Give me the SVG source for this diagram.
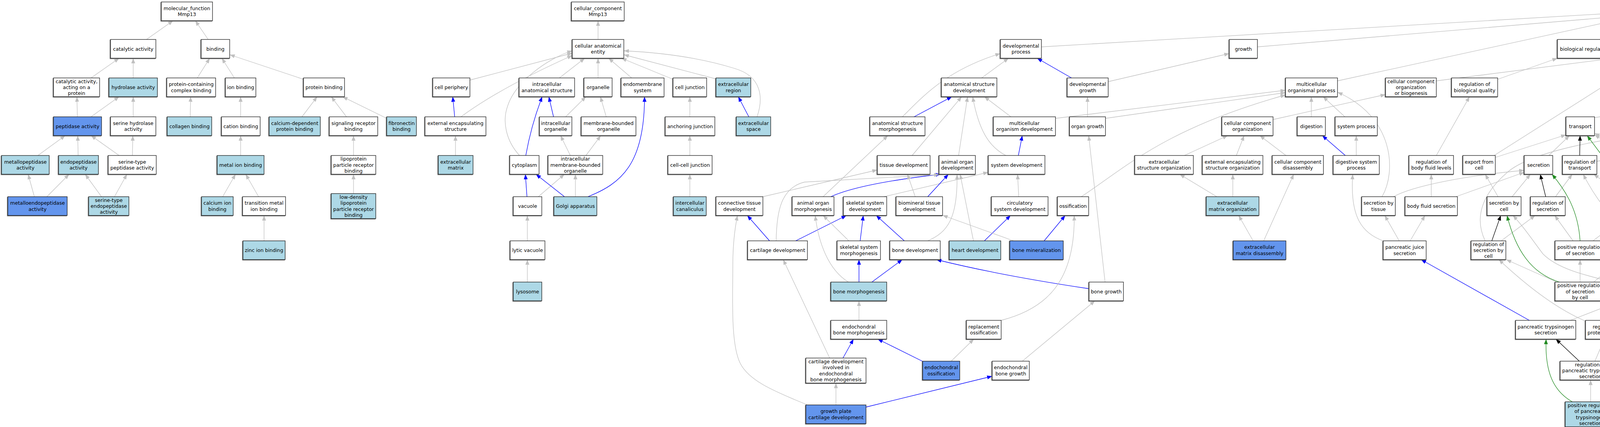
<svg xmlns="http://www.w3.org/2000/svg" width="5927" height="1093" viewBox="0 0 5927 1093">
<style>
.w{fill:#fff}.lb{fill:#add8e6}.cb{fill:#6495ed}
.nd rect{stroke:#1a1a1a;stroke-width:1.3;filter:url(#sh)}
.nd text{font-family:"DejaVu Sans",Verdana,sans-serif;font-size:12.5px;text-anchor:middle;fill:#000}
#connectors path{fill:none;stroke-width:1.3}
#connectors .g{stroke:#c0c0c0;marker-end:url(#ag)}
#connectors .b{stroke:#0000ff;marker-end:url(#ab)}
#connectors .k{stroke:#000000;marker-end:url(#ak)}
#connectors .f{stroke:#228b22;marker-end:url(#af)}
</style>
<defs>
<filter id="sh" x="-5%" y="-10%" width="110%" height="125%"><feDropShadow dx="-1.3" dy="1.3" stdDeviation="0" flood-color="#555555" flood-opacity="1"/></filter>
<marker id="ag" viewBox="0 0 13 10" refX="13" refY="5" markerWidth="13" markerHeight="10" markerUnits="userSpaceOnUse" orient="auto"><path d="M0,0L13,5L0,10z" fill="#c0c0c0"/></marker>
<marker id="ab" viewBox="0 0 13 10" refX="13" refY="5" markerWidth="13" markerHeight="10" markerUnits="userSpaceOnUse" orient="auto"><path d="M0,0L13,5L0,10z" fill="#0000ff"/></marker>
<marker id="ak" viewBox="0 0 13 10" refX="13" refY="5" markerWidth="13" markerHeight="10" markerUnits="userSpaceOnUse" orient="auto"><path d="M0,0L13,5L0,10z" fill="#000000"/></marker>
<marker id="af" viewBox="0 0 13 10" refX="13" refY="5" markerWidth="13" markerHeight="10" markerUnits="userSpaceOnUse" orient="auto"><path d="M0,0L13,5L0,10z" fill="#228b22"/></marker>
</defs>
<rect x="0" y="0" width="5927" height="1093" fill="#fff"/>
<g id="connectors">
<path class="g" d="M375,101L443,53"/>
<path class="g" d="M533,101L500,53"/>
<path class="g" d="M233,199.5L305,149"/>
<path class="g" d="M341,199.5L341,149"/>
<path class="g" d="M505,199.5L537,149"/>
<path class="g" d="M600,199.5L568,149"/>
<path class="g" d="M777,203L588,140"/>
<path class="g" d="M198,299L197,247.5"/>
<path class="g" d="M233,299L305,247.5"/>
<path class="g" d="M341,299L341,247.5"/>
<path class="g" d="M487,299L488,247.5"/>
<path class="g" d="M616,299L616,247.5"/>
<path class="g" d="M773,299L812,247.5"/>
<path class="g" d="M887,299L848,247.5"/>
<path class="g" d="M990,303L877,247.5"/>
<path class="g" d="M97,398L167,347"/>
<path class="g" d="M200,398L199,347"/>
<path class="g" d="M305,398L233,347"/>
<path class="g" d="M339,398L340,347"/>
<path class="g" d="M616,398L616,347"/>
<path class="g" d="M905,398L905,347"/>
<path class="g" d="M88,503.5L72,446"/>
<path class="g" d="M120,503.5L177,446"/>
<path class="g" d="M260,503.5L218,446"/>
<path class="g" d="M293,503.5L325,446"/>
<path class="g" d="M570,503.5L603,446"/>
<path class="g" d="M662,503.5L629,446"/>
<path class="g" d="M905,495.5L905,446"/>
<path class="g" d="M676,616.5L676,551.5"/>
<path class="g" d="M1531,101L1531,53"/>
<path class="g" d="M1203,205L1465,136"/>
<path class="g" d="M1180,299Q1280,225 1465,142"/>
<path class="g" d="M1330,398C1295,360 1285,310 1300,270C1320,210 1400,150 1465,130"/>
<path class="g" d="M1432,199.5L1497,149"/>
<path class="g" d="M1531,199.5L1531,149"/>
<path class="g" d="M1617,199.5L1558,149"/>
<path class="g" d="M1723,203L1591,149"/>
<path class="g" d="M1833,202L1597,140"/>
<path class="g" d="M1938,299C1955,250 1950,195 1880,175C1800,150 1700,135 1597,130"/>
<path class="b" d="M1164,299L1159,247.5"/>
<path class="b" d="M1417,299L1405,247.5"/>
<path class="g" d="M1448,299L1500,247.5"/>
<path class="g" d="M1552,299L1537,247.5"/>
<path class="g" d="M1766,299L1766,247.5"/>
<path class="b" d="M1917,299L1890,247.5"/>
<path class="g" d="M1166,398L1166,347"/>
<path class="b" d="M1346,398Q1360,320 1388,247.5"/>
<path class="g" d="M1460,398L1435,347"/>
<path class="g" d="M1500,398L1538,347"/>
<path class="g" d="M1766,398L1766,347"/>
<path class="b" d="M1349,503.5L1345,446"/>
<path class="g" d="M1378,503.5L1445,446"/>
<path class="b" d="M1445,503.5L1372,446"/>
<path class="g" d="M1473,503.5L1473,446"/>
<path class="b" d="M1505,503.5C1590,470 1650,420 1650,247.5"/>
<path class="g" d="M1766,503.5L1766,446"/>
<path class="g" d="M1350,616.5L1350,551.5"/>
<path class="g" d="M1350,722L1350,664.5"/>
<path class="g" d="M2666,120L4146,33"/>
<path class="g" d="M3219,120L4146,42"/>
<path class="g" d="M3424,207L4146,50"/>
<path class="g" d="M4095,101L4170,53"/>
<path class="g" d="M4243,101L4222,53"/>
<path class="k" d="M4360,199.5C4345,140 4320,85 4263,53"/>
<path class="f" d="M4170,299C4172,210 4182,110 4200,53"/>
<path class="g" d="M4544,112L4273,48"/>
<path class="g" d="M5136,119L4273,40"/>
<path class="g" d="M5697,121L4273,34"/>
<path class="g" d="M2513,199.5L2582,149"/>
<path class="g" d="M2310,299C2360,250 2420,180 2561,137"/>
<path class="b" d="M2743,199.5L2655,149"/>
<path class="g" d="M2837,209L3147,137"/>
<path class="b" d="M2340,299L2437,247.5"/>
<path class="g" d="M2335,398L2462,247.5"/>
<path class="g" d="M2454,398L2477,247.5"/>
<path class="g" d="M2575,398C2530,375 2505,330 2490,247.5"/>
<path class="g" d="M2588,299L2520,247.5"/>
<path class="g" d="M2702,303L3291,231"/>
<path class="g" d="M2784,299L2784,247.5"/>
<path class="g" d="M2830,303L3291,237"/>
<path class="b" d="M2607,398L2617,347"/>
<path class="g" d="M2263,503.5L2530,441"/>
<path class="g" d="M2608,503.5L2605,446"/>
<path class="b" d="M2520,616.5L2587,551.5"/>
<path class="g" d="M2107,503.5L2273,347"/>
<path class="b" d="M2127,503.5Q2200,470 2408,446"/>
<path class="g" d="M2343,503.5L2323,446"/>
<path class="b" d="M2375,503.5L2428,446"/>
<path class="g" d="M1953,503.5L2246,435"/>
<path class="g" d="M1987,616.5C1988,540 2000,480 2060,466L2404,447"/>
<path class="b" d="M2037,616.5L2167,551.5"/>
<path class="b" d="M1970,616.5L1913,551.5"/>
<path class="g" d="M2173,616.5L2107,551.5"/>
<path class="b" d="M2202,616.5L2210,551.5"/>
<path class="b" d="M2315,616.5L2243,551.5"/>
<path class="g" d="M2375,616.5C2425,595 2452,560 2450,446"/>
<path class="g" d="M2492,616.5L2458,446"/>
<path class="g" d="M2595,616.5L2413,551"/>
<path class="b" d="M2673,616.5L2727,551.5"/>
<path class="b" d="M2199,722L2199,664.5"/>
<path class="b" d="M2232,722L2310,664.5"/>
<path class="g" d="M2172,722C2120,690 2095,620 2087,551.5"/>
<path class="b" d="M2788,739Q2560,705 2397,664.5"/>
<path class="g" d="M2199,820L2199,770"/>
<path class="g" d="M2563,820C2680,790 2752,720 2750,551.5"/>
<path class="g" d="M2829,722L2787,347"/>
<path class="b" d="M2158,916.5L2185,868"/>
<path class="g" d="M2124,916.5L2005,664.5"/>
<path class="b" d="M2362,925L2247,868"/>
<path class="g" d="M2435,924.5L2493,868"/>
<path class="g" d="M2617,924.5L2803,770"/>
<path class="g" d="M2140,1036.5L2140,980.5"/>
<path class="b" d="M2217,1042L2540,963"/>
<path class="g" d="M2068,1037C2000,1008 1920,980 1895,930C1870,880 1876,760 1876,680C1876,620 1882,580 1888,551.5"/>
<path class="g" d="M2768,503.5C2880,430 2980,330 3291,243"/>
<path class="g" d="M3032,398L3143,347"/>
<path class="g" d="M3165,398L3185,347"/>
<path class="g" d="M3292,398L3225,347"/>
<path class="g" d="M3259,306L3547,242"/>
<path class="g" d="M3357,299L3357,247.5"/>
<path class="g" d="M3443,299L3387,247.5"/>
<path class="b" d="M3444,398L3385,347"/>
<path class="g" d="M3472,398L3472,347"/>
<path class="g" d="M3115,503.5L3020,446"/>
<path class="g" d="M3156,503.5L3156,446"/>
<path class="g" d="M3208,616.5L3171,551.5"/>
<path class="g" d="M3235,616.5L3312,446"/>
<path class="g" d="M3541,616.5C3490,598 3455,560 3463,446"/>
<path class="g" d="M3538,503.5C3575,440 3570,300 3424,236"/>
<path class="g" d="M3677,207L4202,140"/>
<path class="g" d="M3834,203L3987,149"/>
<path class="g" d="M3677,398L3762,247.5"/>
<path class="g" d="M3825,398L4218,149"/>
<path class="g" d="M3828,403L4009,345"/>
<path class="g" d="M3965,398L4018,347"/>
<path class="g" d="M3664,503.5L3664,446"/>
<path class="g" d="M3727,503.5L3902,441"/>
<path class="g" d="M3567,503.5C3620,475 3750,450 3902,436"/>
<path class="g" d="M3582,616.5L3545,551.5"/>
<path class="g" d="M3610,616.5L3648,551.5"/>
<path class="g" d="M3871,503.5L3918,446"/>
<path class="g" d="M3835,503.5L3802,446"/>
<path class="k" d="M3957,503.5L3943,446"/>
<path class="g" d="M3982,503.5L4025,446"/>
<path class="k" d="M3819,616.5L3842,551.5"/>
<path class="g" d="M3843,616.5L3930,551.5"/>
<path class="g" d="M3802,616.5C3775,560 3790,500 3860,440C3920,390 4100,350 4310,336"/>
<path class="g" d="M4027,616.5L3980,551.5"/>
<path class="g" d="M4078,616.5L4163,551.5"/>
<path class="f" d="M4045,616.5C4040,540 4010,490 3973,446"/>
<path class="f" d="M3992,722C3920,700 3880,640 3858,551.5"/>
<path class="g" d="M3985,722L3856,664.5"/>
<path class="g" d="M4045,722L4045,664.5"/>
<path class="g" d="M4080,722Q4300,540 4362,446"/>
<path class="g" d="M4152,728C4060,705 3990,690 3950,650C3920,610 3900,580 3873,551.5"/>
<path class="g" d="M4059,822Q3960,780 3837,664.5"/>
<path class="b" d="M3915,820L3638,664.5"/>
<path class="g" d="M4020,820L4152,769"/>
<path class="k" d="M4043,924.5L3983,868"/>
<path class="g" d="M4083,924.5L4107,868"/>
<path class="g" d="M4072,1028.5L4072,972.5"/>
<path class="f" d="M4025,1028.5C3975,1000 3955,950 3958,868"/>
<path class="g" d="M4120,1028.5L4203,972.5"/>
<path class="g" d="M4212,924.5L4147,868"/>
<path class="f" d="M4239,924.5C4240,870 4232,810 4220,770"/>
<path class="g" d="M4235,924.5C4215,850 4170,790 4110,770"/>
<path class="g" d="M4282,924.5L4378,868"/>
<path class="k" d="M4140,820L4187,770"/>
<path class="g" d="M4175,823L4363,767"/>
<path class="g" d="M4416,616.5L4405,551.5"/>
<path class="g" d="M4448,616.5L4523,551.5"/>
<path class="g" d="M4479,617L4647,551.5"/>
<path class="g" d="M4258,722L4373,664.5"/>
<path class="g" d="M4268,730L4503,668"/>
<path class="k" d="M4422,722L4422,664.5"/>
<path class="g" d="M4363,722C4250,680 4120,580 4053,446"/>
<path class="g" d="M4479,729L4683,664.5"/>
<path class="g" d="M4422,820L4422,770"/>
<path class="f" d="M4453,820C4510,790 4505,700 4450,664.5"/>
<path class="g" d="M4395,820L4210,551.5"/>
<path class="g" d="M4487,823L4732,767"/>
<path class="g" d="M4160,503.5L4080,446"/>
<path class="g" d="M4193,503.5L4172,347"/>
<path class="f" d="M4180,503.5L4063,347"/>
<path class="g" d="M4347,503.5L4082,345"/>
<path class="g" d="M4484,503.5C4330,480 4200,400 4082,341"/>
<path class="k" d="M4044,398L4045,347"/>
<path class="g" d="M4088,413L4466,341"/>
<path class="g" d="M4082,301L4449,248"/>
<path class="g" d="M4217,299L4317,247.5"/>
<path class="g" d="M4364,299L4364,247.5"/>
<path class="k" d="M4333,299C4290,260 4262,220 4262,149"/>
<path class="f" d="M4345,398C4280,370 4255,300 4255,149"/>
<path class="g" d="M4375,398L4368,347"/>
<path class="g" d="M4328,398L4227,347"/>
<path class="g" d="M4473,299L4403,247.5"/>
<path class="g" d="M4493,398L4413,347"/>
<path class="g" d="M4528,398L4517,347"/>
<path class="k" d="M4553,398L4672,247.5"/>
<path class="g" d="M4302,203L4133,149"/>
<path class="g" d="M4622,206L4310,140"/>
<path class="g" d="M4520,199.5L4563,149"/>
<path class="k" d="M4530,299C4565,275 4580,220 4582,149"/>
<path class="g" d="M4663,199.5L4612,149"/>
<path class="g" d="M4779,202L4626,143"/>
<path class="g" d="M4818,299L4828,247.5"/>
<path class="g" d="M4783,299L4718,247.5"/>
<path class="g" d="M4902,398L4842,347"/>
<path class="g" d="M4700,503.5L4523,247.5"/>
<path class="g" d="M4762,503.5L4880,446"/>
<path class="g" d="M4929,503.5L4929,446"/>
<path class="g" d="M4617,608.5L4685,551.5"/>
<path class="g" d="M4652,612L4863,549"/>
<path class="k" d="M4742,616.5L4722,551.5"/>
<path class="g" d="M4823,620L5026,551.5"/>
<path class="g" d="M4792,722L4763,664.5"/>
<path class="f" d="M4820,722C4860,680 4860,600 4772,551.5"/>
<path class="g" d="M4860,722L4987,664.5"/>
<path class="k" d="M5050,503.5L4963,446"/>
<path class="g" d="M5030,503.5L4601,437"/>
<path class="g" d="M5050,616.5L5073,551.5"/>
<path class="f" d="M5100,616.5C5200,580 5200,470 4995,434"/>
<path class="g" d="M4966,616.5C4880,580 4860,490 4750,465C4650,450 4550,452 4444,444"/>
<path class="g" d="M4977,299L4977,247.5"/>
<path class="g" d="M5032,199.5L5143,149"/>
<path class="g" d="M5143,199.5L5180,149"/>
<path class="g" d="M5254,199.5L5217,149"/>
<path class="g" d="M5370,199.5L5255,149"/>
<path class="g" d="M5516,201L5262,140"/>
<path class="g" d="M5015,299L5090,247.5"/>
<path class="g" d="M5126,299L5126,247.5"/>
<path class="g" d="M5162,299L5235,247.5"/>
<path class="g" d="M5275,299L5273,247.5"/>
<path class="g" d="M5393,299L5315,247.5"/>
<path class="g" d="M5432,299L5428,247.5"/>
<path class="g" d="M5128,398L5128,347"/>
<path class="g" d="M5165,398L5240,347"/>
<path class="g" d="M5242,398L5165,347"/>
<path class="g" d="M5320,398L5396,347"/>
<path class="g" d="M5397,398L5313,347"/>
<path class="g" d="M5434,398L5434,347"/>
<path class="g" d="M5467,398C5510,375 5550,330 5567,247.5"/>
<path class="g" d="M5247,503.5L5163,446"/>
<path class="g" d="M5282,503.5L5282,446"/>
<path class="g" d="M5317,503.5L5400,446"/>
<path class="g" d="M5435,503.5L5435,446"/>
<path class="g" d="M5738,199.5L5738,149"/>
<path class="g" d="M5843,199.5L5773,149"/>
<path class="g" d="M5863,299L5872,247.5"/>
<path class="g" d="M5799,398L5748,247.5"/>
<path class="g" d="M5820,398L5845,347"/>
</g>
<g class="nd">
<g id="n_mf" transform="translate(478.5,29)"><rect class="w" x="-65.5" y="-24" width="131" height="48"/><text><tspan x="0" y="-3.2">molecular_function</tspan><tspan x="0" y="12.2">Mmp13</tspan></text></g>
<g id="n_cat" transform="translate(341,125)"><rect class="w" x="-58" y="-24" width="116" height="48"/><text y="4.5">catalytic activity</text></g>
<g id="n_binding" transform="translate(551.5,125)"><rect class="w" x="-36.5" y="-24" width="73" height="48"/><text y="4.5">binding</text></g>
<g id="n_catprot" transform="translate(196,223.5)"><rect class="w" x="-59" y="-24" width="118" height="48"/><text><tspan x="0" y="-10.9">catalytic activity,</tspan><tspan x="0" y="4.5">acting on a</tspan><tspan x="0" y="19.9">protein</tspan></text></g>
<g id="n_hydro" transform="translate(341,223.5)"><rect class="lb" x="-62" y="-24" width="124" height="48"/><text y="4.5">hydrolase activity</text></g>
<g id="n_pccb" transform="translate(489.5,223.5)"><rect class="w" x="-62.5" y="-24" width="125" height="48"/><text><tspan x="0" y="-3.2">protein-containing</tspan><tspan x="0" y="12.2">complex binding</tspan></text></g>
<g id="n_ionb" transform="translate(616,223.5)"><rect class="w" x="-39" y="-24" width="78" height="48"/><text y="4.5">ion binding</text></g>
<g id="n_protb" transform="translate(829.5,223.5)"><rect class="w" x="-52.5" y="-24" width="105" height="48"/><text y="4.5">protein binding</text></g>
<g id="n_pept" transform="translate(198.5,323)"><rect class="cb" x="-61.5" y="-24" width="123" height="48"/><text y="4.5">peptidase activity</text></g>
<g id="n_serh" transform="translate(341,323)"><rect class="w" x="-58" y="-24" width="116" height="48"/><text><tspan x="0" y="-3.2">serine hydrolase</tspan><tspan x="0" y="12.2">activity</tspan></text></g>
<g id="n_collb" transform="translate(485,323)"><rect class="lb" x="-57" y="-24" width="114" height="48"/><text y="4.5">collagen binding</text></g>
<g id="n_cation" transform="translate(616.5,323)"><rect class="w" x="-49.5" y="-24" width="99" height="48"/><text y="4.5">cation binding</text></g>
<g id="n_cadep" transform="translate(754.5,323)"><rect class="lb" x="-65.5" y="-24" width="131" height="48"/><text><tspan x="0" y="-3.2">calcium-dependent</tspan><tspan x="0" y="12.2">protein binding</tspan></text></g>
<g id="n_sigr" transform="translate(905,323)"><rect class="w" x="-62" y="-24" width="124" height="48"/><text><tspan x="0" y="-3.2">signaling receptor</tspan><tspan x="0" y="12.2">binding</tspan></text></g>
<g id="n_fibro" transform="translate(1028,323)"><rect class="lb" x="-38" y="-24" width="76" height="48"/><text><tspan x="0" y="-3.2">fibronectin</tspan><tspan x="0" y="12.2">binding</tspan></text></g>
<g id="n_metpep" transform="translate(65,422)"><rect class="lb" x="-61" y="-24" width="122" height="48"/><text><tspan x="0" y="-3.2">metallopeptidase</tspan><tspan x="0" y="12.2">activity</tspan></text></g>
<g id="n_endopep" transform="translate(201,422)"><rect class="lb" x="-51" y="-24" width="102" height="48"/><text><tspan x="0" y="-3.2">endopeptidase</tspan><tspan x="0" y="12.2">activity</tspan></text></g>
<g id="n_sertpep" transform="translate(338.5,422)"><rect class="w" x="-61.5" y="-24" width="123" height="48"/><text><tspan x="0" y="-3.2">serine-type</tspan><tspan x="0" y="12.2">peptidase activity</tspan></text></g>
<g id="n_metal" transform="translate(616,422)"><rect class="lb" x="-60" y="-24" width="120" height="48"/><text y="4.5">metal ion binding</text></g>
<g id="n_lprb" transform="translate(905,422)"><rect class="w" x="-57" y="-24" width="114" height="48"/><text><tspan x="0" y="-10.9">lipoprotein</tspan><tspan x="0" y="4.5">particle receptor</tspan><tspan x="0" y="19.9">binding</tspan></text></g>
<g id="n_mendo" transform="translate(96,527.5)"><rect class="cb" x="-76" y="-24" width="152" height="48"/><text><tspan x="0" y="-3.2">metalloendopeptidase</tspan><tspan x="0" y="12.2">activity</tspan></text></g>
<g id="n_serendo" transform="translate(278.5,527.5)"><rect class="lb" x="-51.5" y="-24" width="103" height="48"/><text><tspan x="0" y="-10.9">serine-type</tspan><tspan x="0" y="4.5">endopeptidase</tspan><tspan x="0" y="19.9">activity</tspan></text></g>
<g id="n_caion" transform="translate(556.5,527.5)"><rect class="lb" x="-40.5" y="-24" width="81" height="48"/><text><tspan x="0" y="-3.2">calcium ion</tspan><tspan x="0" y="12.2">binding</tspan></text></g>
<g id="n_trans" transform="translate(676,527.5)"><rect class="w" x="-55" y="-24" width="110" height="48"/><text><tspan x="0" y="-3.2">transition metal</tspan><tspan x="0" y="12.2">ion binding</tspan></text></g>
<g id="n_ldl" transform="translate(905,527.5)"><rect class="lb" x="-57" y="-32" width="114" height="64"/><text><tspan x="0" y="-18.6">low-density</tspan><tspan x="0" y="-3.2">lipoprotein</tspan><tspan x="0" y="12.2">particle receptor</tspan><tspan x="0" y="27.6">binding</tspan></text></g>
<g id="n_zinc" transform="translate(676,640.5)"><rect class="lb" x="-54" y="-24" width="108" height="48"/><text y="4.5">zinc ion binding</text></g>
<g id="n_cc" transform="translate(1530.5,29)"><rect class="w" x="-67.5" y="-24" width="135" height="48"/><text><tspan x="0" y="-3.2">cellular_component</tspan><tspan x="0" y="12.2">Mmp13</tspan></text></g>
<g id="n_cae" transform="translate(1531,125)"><rect class="w" x="-66" y="-24" width="132" height="48"/><text><tspan x="0" y="-3.2">cellular anatomical</tspan><tspan x="0" y="12.2">entity</tspan></text></g>
<g id="n_cper" transform="translate(1155.5,223.5)"><rect class="w" x="-47.5" y="-24" width="95" height="48"/><text y="4.5">cell periphery</text></g>
<g id="n_ias" transform="translate(1400,223.5)"><rect class="w" x="-71" y="-24" width="142" height="48"/><text><tspan x="0" y="-3.2">intracellular</tspan><tspan x="0" y="12.2">anatomical structure</tspan></text></g>
<g id="n_org" transform="translate(1531,223.5)"><rect class="w" x="-36" y="-24" width="72" height="48"/><text y="4.5">organelle</text></g>
<g id="n_endo" transform="translate(1645,223.5)"><rect class="w" x="-55" y="-24" width="110" height="48"/><text><tspan x="0" y="-3.2">endomembrane</tspan><tspan x="0" y="12.2">system</tspan></text></g>
<g id="n_cj" transform="translate(1766,223.5)"><rect class="w" x="-43" y="-24" width="86" height="48"/><text y="4.5">cell junction</text></g>
<g id="n_exreg" transform="translate(1877.5,223.5)"><rect class="lb" x="-44.5" y="-24" width="89" height="48"/><text><tspan x="0" y="-3.2">extracellular</tspan><tspan x="0" y="12.2">region</tspan></text></g>
<g id="n_ees" transform="translate(1166,323)"><rect class="w" x="-78" y="-24" width="156" height="48"/><text><tspan x="0" y="-3.2">external encapsulating</tspan><tspan x="0" y="12.2">structure</tspan></text></g>
<g id="n_io" transform="translate(1422.5,323)"><rect class="w" x="-41.5" y="-24" width="83" height="48"/><text><tspan x="0" y="-3.2">intracellular</tspan><tspan x="0" y="12.2">organelle</tspan></text></g>
<g id="n_mbo" transform="translate(1558,323)"><rect class="w" x="-70" y="-24" width="140" height="48"/><text><tspan x="0" y="-3.2">membrane-bounded</tspan><tspan x="0" y="12.2">organelle</tspan></text></g>
<g id="n_aj" transform="translate(1766.5,323)"><rect class="w" x="-63.5" y="-24" width="127" height="48"/><text y="4.5">anchoring junction</text></g>
<g id="n_exsp" transform="translate(1929,323)"><rect class="lb" x="-44" y="-24" width="88" height="48"/><text><tspan x="0" y="-3.2">extracellular</tspan><tspan x="0" y="12.2">space</tspan></text></g>
<g id="n_ecm" transform="translate(1166.5,422)"><rect class="lb" x="-44.5" y="-24" width="89" height="48"/><text><tspan x="0" y="-3.2">extracellular</tspan><tspan x="0" y="12.2">matrix</tspan></text></g>
<g id="n_cyto" transform="translate(1342.5,422)"><rect class="w" x="-37.5" y="-24" width="75" height="48"/><text y="4.5">cytoplasm</text></g>
<g id="n_imbo" transform="translate(1473,422)"><rect class="w" x="-70" y="-24" width="140" height="48"/><text><tspan x="0" y="-10.9">intracellular</tspan><tspan x="0" y="4.5">membrane-bounded</tspan><tspan x="0" y="19.9">organelle</tspan></text></g>
<g id="n_ccj" transform="translate(1766.5,422)"><rect class="w" x="-56.5" y="-24" width="113" height="48"/><text y="4.5">cell-cell junction</text></g>
<g id="n_vac" transform="translate(1350.5,527.5)"><rect class="w" x="-36.5" y="-24" width="73" height="48"/><text y="4.5">vacuole</text></g>
<g id="n_golgi" transform="translate(1473,527.5)"><rect class="lb" x="-55" y="-24" width="110" height="48"/><text y="4.5">Golgi apparatus</text></g>
<g id="n_icc" transform="translate(1766,527.5)"><rect class="lb" x="-42" y="-24" width="84" height="48"/><text><tspan x="0" y="-3.2">intercellular</tspan><tspan x="0" y="12.2">canaliculus</tspan></text></g>
<g id="n_lytv" transform="translate(1350.5,640.5)"><rect class="w" x="-44.5" y="-24" width="89" height="48"/><text y="4.5">lytic vacuole</text></g>
<g id="n_lyso" transform="translate(1350.5,746)"><rect class="lb" x="-36.5" y="-24" width="73" height="48"/><text y="4.5">lysosome</text></g>
<g id="n_ctd" transform="translate(1893,527.5)"><rect class="w" x="-60" y="-24" width="120" height="48"/><text><tspan x="0" y="-3.2">connective tissue</tspan><tspan x="0" y="12.2">development</tspan></text></g>
<g id="n_cartd" transform="translate(1990.5,640.5)"><rect class="w" x="-76.5" y="-24" width="153" height="48"/><text y="4.5">cartilage development</text></g>
<g id="n_asd" transform="translate(2481,223.5)"><rect class="w" x="-71" y="-24" width="142" height="48"/><text><tspan x="0" y="-3.2">anatomical structure</tspan><tspan x="0" y="12.2">development</tspan></text></g>
<g id="n_asm" transform="translate(2297.5,323)"><rect class="w" x="-70.5" y="-24" width="141" height="48"/><text><tspan x="0" y="-3.2">anatomical structure</tspan><tspan x="0" y="12.2">morphogenesis</tspan></text></g>
<g id="n_tisd" transform="translate(2313.5,422)"><rect class="w" x="-67.5" y="-24" width="135" height="48"/><text y="4.5">tissue development</text></g>
<g id="n_aod" transform="translate(2450.5,422)"><rect class="w" x="-46.5" y="-24" width="93" height="48"/><text><tspan x="0" y="-3.2">animal organ</tspan><tspan x="0" y="12.2">development</tspan></text></g>
<g id="n_aom" transform="translate(2081.5,527.5)"><rect class="w" x="-53.5" y="-24" width="107" height="48"/><text><tspan x="0" y="-3.2">animal organ</tspan><tspan x="0" y="12.2">morphogenesis</tspan></text></g>
<g id="n_ssd" transform="translate(2214.5,527.5)"><rect class="w" x="-55.5" y="-24" width="111" height="48"/><text><tspan x="0" y="-3.2">skeletal system</tspan><tspan x="0" y="12.2">development</tspan></text></g>
<g id="n_btd" transform="translate(2353.5,527.5)"><rect class="w" x="-59.5" y="-24" width="119" height="48"/><text><tspan x="0" y="-3.2">biomineral tissue</tspan><tspan x="0" y="12.2">development</tspan></text></g>
<g id="n_ssm" transform="translate(2198.5,640.5)"><rect class="w" x="-55.5" y="-24" width="111" height="48"/><text><tspan x="0" y="-3.2">skeletal system</tspan><tspan x="0" y="12.2">morphogenesis</tspan></text></g>
<g id="n_bd" transform="translate(2342.5,640.5)"><rect class="w" x="-64.5" y="-24" width="129" height="48"/><text y="4.5">bone development</text></g>
<g id="n_hd" transform="translate(2496,640.5)"><rect class="lb" x="-66" y="-24" width="132" height="48"/><text y="4.5">heart development</text></g>
<g id="n_bm" transform="translate(2198.5,746)"><rect class="lb" x="-71.5" y="-24" width="143" height="48"/><text y="4.5">bone morphogenesis</text></g>
<g id="n_ebm" transform="translate(2198.5,844)"><rect class="w" x="-71.5" y="-24" width="143" height="48"/><text><tspan x="0" y="-3.2">endochondral</tspan><tspan x="0" y="12.2">bone morphogenesis</tspan></text></g>
<g id="n_ro" transform="translate(2518.5,844)"><rect class="w" x="-44.5" y="-24" width="89" height="48"/><text><tspan x="0" y="-3.2">replacement</tspan><tspan x="0" y="12.2">ossification</tspan></text></g>
<g id="n_cdie" transform="translate(2140,948.5)"><rect class="w" x="-77" y="-32" width="154" height="64"/><text><tspan x="0" y="-18.6">cartilage development</tspan><tspan x="0" y="-3.2">involved in</tspan><tspan x="0" y="12.2">endochondral</tspan><tspan x="0" y="27.6">bone morphogenesis</tspan></text></g>
<g id="n_eo" transform="translate(2409.5,948.5)"><rect class="cb" x="-47.5" y="-24" width="95" height="48"/><text><tspan x="0" y="-3.2">endochondral</tspan><tspan x="0" y="12.2">ossification</tspan></text></g>
<g id="n_gpcd" transform="translate(2140,1060.5)"><rect class="cb" x="-77" y="-24" width="154" height="48"/><text><tspan x="0" y="-3.2">growth plate</tspan><tspan x="0" y="12.2">cartilage development</tspan></text></g>
<g id="n_dp" transform="translate(2613.5,125)"><rect class="w" x="-52.5" y="-24" width="105" height="48"/><text><tspan x="0" y="-3.2">developmental</tspan><tspan x="0" y="12.2">process</tspan></text></g>
<g id="n_dg" transform="translate(2784.5,223.5)"><rect class="w" x="-52.5" y="-24" width="105" height="48"/><text><tspan x="0" y="-3.2">developmental</tspan><tspan x="0" y="12.2">growth</tspan></text></g>
<g id="n_mod" transform="translate(2622.5,323)"><rect class="w" x="-79.5" y="-24" width="159" height="48"/><text><tspan x="0" y="-3.2">multicellular</tspan><tspan x="0" y="12.2">organism development</tspan></text></g>
<g id="n_og" transform="translate(2784,323)"><rect class="w" x="-46" y="-24" width="92" height="48"/><text y="4.5">organ growth</text></g>
<g id="n_sd" transform="translate(2602.5,422)"><rect class="w" x="-72.5" y="-24" width="145" height="48"/><text y="4.5">system development</text></g>
<g id="n_eso" transform="translate(2980,422)"><rect class="w" x="-75" y="-24" width="150" height="48"/><text><tspan x="0" y="-3.2">extracellular</tspan><tspan x="0" y="12.2">structure organization</tspan></text></g>
<g id="n_csd" transform="translate(2610.5,527.5)"><rect class="w" x="-72.5" y="-24" width="145" height="48"/><text><tspan x="0" y="-3.2">circulatory</tspan><tspan x="0" y="12.2">system development</tspan></text></g>
<g id="n_oss" transform="translate(2747,527.5)"><rect class="w" x="-40" y="-24" width="80" height="48"/><text y="4.5">ossification</text></g>
<g id="n_bmin" transform="translate(2653.5,640.5)"><rect class="cb" x="-68.5" y="-24" width="137" height="48"/><text y="4.5">bone mineralization</text></g>
<g id="n_bg" transform="translate(2832,746)"><rect class="w" x="-44" y="-24" width="88" height="48"/><text y="4.5">bone growth</text></g>
<g id="n_ebg" transform="translate(2587.5,948.5)"><rect class="w" x="-47.5" y="-24" width="95" height="48"/><text><tspan x="0" y="-3.2">endochondral</tspan><tspan x="0" y="12.2">bone growth</tspan></text></g>
<g id="n_growth" transform="translate(3183,125)"><rect class="w" x="-36" y="-24" width="72" height="48"/><text y="4.5">growth</text></g>
<g id="n_mop" transform="translate(3357.5,223.5)"><rect class="w" x="-66.5" y="-24" width="133" height="48"/><text><tspan x="0" y="-3.2">multicellular</tspan><tspan x="0" y="12.2">organismal process</tspan></text></g>
<g id="n_cco" transform="translate(3193.5,323)"><rect class="w" x="-65.5" y="-24" width="131" height="48"/><text><tspan x="0" y="-3.2">cellular component</tspan><tspan x="0" y="12.2">organization</tspan></text></g>
<g id="n_dig" transform="translate(3357,323)"><rect class="w" x="-36" y="-24" width="72" height="48"/><text y="4.5">digestion</text></g>
<g id="n_sp" transform="translate(3472,323)"><rect class="w" x="-54" y="-24" width="108" height="48"/><text y="4.5">system process</text></g>
<g id="n_eeso" transform="translate(3155.5,422)"><rect class="w" x="-77.5" y="-24" width="155" height="48"/><text><tspan x="0" y="-3.2">external encapsulating</tspan><tspan x="0" y="12.2">structure organization</tspan></text></g>
<g id="n_ccd" transform="translate(3322.5,422)"><rect class="w" x="-65.5" y="-24" width="131" height="48"/><text><tspan x="0" y="-3.2">cellular component</tspan><tspan x="0" y="12.2">disassembly</tspan></text></g>
<g id="n_dsp" transform="translate(3472,422)"><rect class="w" x="-59" y="-24" width="118" height="48"/><text><tspan x="0" y="-3.2">digestive system</tspan><tspan x="0" y="12.2">process</tspan></text></g>
<g id="n_ecmo" transform="translate(3155.5,527.5)"><rect class="lb" x="-67.5" y="-24" width="135" height="48"/><text><tspan x="0" y="-3.2">extracellular</tspan><tspan x="0" y="12.2">matrix organization</tspan></text></g>
<g id="n_sbt" transform="translate(3529,527.5)"><rect class="w" x="-43" y="-24" width="86" height="48"/><text><tspan x="0" y="-3.2">secretion by</tspan><tspan x="0" y="12.2">tissue</tspan></text></g>
<g id="n_ecmd" transform="translate(3224.5,640.5)"><rect class="cb" x="-67.5" y="-24" width="135" height="48"/><text><tspan x="0" y="-3.2">extracellular</tspan><tspan x="0" y="12.2">matrix disassembly</tspan></text></g>
<g id="n_ccob" transform="translate(3612,223.5)"><rect class="w" x="-65" y="-24" width="130" height="48"/><text><tspan x="0" y="-10.9">cellular component</tspan><tspan x="0" y="4.5">organization</tspan><tspan x="0" y="19.9">or biogenesis</tspan></text></g>
<g id="n_rbq" transform="translate(3775,223.5)"><rect class="w" x="-59" y="-24" width="118" height="48"/><text><tspan x="0" y="-3.2">regulation of</tspan><tspan x="0" y="12.2">biological quality</tspan></text></g>
<g id="n_breg" transform="translate(4057,125)"><rect class="w" x="-70" y="-24" width="140" height="48"/><text y="4.5">biological regulation</text></g>
<g id="n_rbfl" transform="translate(3664,422)"><rect class="w" x="-57" y="-24" width="114" height="48"/><text><tspan x="0" y="-3.2">regulation of</tspan><tspan x="0" y="12.2">body fluid levels</tspan></text></g>
<g id="n_efc" transform="translate(3786.5,422)"><rect class="w" x="-41.5" y="-24" width="83" height="48"/><text><tspan x="0" y="-3.2">export from</tspan><tspan x="0" y="12.2">cell</tspan></text></g>
<g id="n_sec" transform="translate(3938.5,422)"><rect class="w" x="-36.5" y="-24" width="73" height="48"/><text y="4.5">secretion</text></g>
<g id="n_bfs" transform="translate(3664,527.5)"><rect class="w" x="-67" y="-24" width="134" height="48"/><text y="4.5">body fluid secretion</text></g>
<g id="n_sbc" transform="translate(3850.5,527.5)"><rect class="w" x="-43.5" y="-24" width="87" height="48"/><text><tspan x="0" y="-3.2">secretion by</tspan><tspan x="0" y="12.2">cell</tspan></text></g>
<g id="n_rs" transform="translate(3962.5,527.5)"><rect class="w" x="-44.5" y="-24" width="89" height="48"/><text><tspan x="0" y="-3.2">regulation of</tspan><tspan x="0" y="12.2">secretion</tspan></text></g>
<g id="n_pjs" transform="translate(3596,640.5)"><rect class="w" x="-55" y="-24" width="110" height="48"/><text><tspan x="0" y="-3.2">pancreatic juice</tspan><tspan x="0" y="12.2">secretion</tspan></text></g>
<g id="n_rsc" transform="translate(3810.5,640.5)"><rect class="w" x="-44.5" y="-24" width="89" height="48"/><text><tspan x="0" y="-10.9">regulation of</tspan><tspan x="0" y="4.5">secretion by</tspan><tspan x="0" y="19.9">cell</tspan></text></g>
<g id="n_prs" transform="translate(4045,640.5)"><rect class="w" x="-64" y="-24" width="128" height="48"/><text><tspan x="0" y="-3.2">positive regulation</tspan><tspan x="0" y="12.2">of secretion</tspan></text></g>
<g id="n_prsc" transform="translate(4045,746)"><rect class="w" x="-64" y="-24" width="128" height="48"/><text><tspan x="0" y="-10.9">positive regulation</tspan><tspan x="0" y="4.5">of secretion</tspan><tspan x="0" y="19.9">by cell</tspan></text></g>
<g id="n_pts" transform="translate(3957,844)"><rect class="w" x="-77" y="-24" width="154" height="48"/><text><tspan x="0" y="-3.2">pancreatic trypsinogen</tspan><tspan x="0" y="12.2">secretion</tspan></text></g>
<g id="n_rpts" transform="translate(4071.5,948.5)"><rect class="w" x="-77.5" y="-24" width="155" height="48"/><text><tspan x="0" y="-10.9">regulation of</tspan><tspan x="0" y="4.5">pancreatic trypsinogen</tspan><tspan x="0" y="19.9">secretion</tspan></text></g>
<g id="n_prpts" transform="translate(4071.5,1060.5)"><rect class="lb" x="-64.5" y="-32" width="129" height="64"/><text><tspan x="0" y="-18.6">positive regulation</tspan><tspan x="0" y="-3.2">of pancreatic</tspan><tspan x="0" y="12.2">trypsinogen</tspan><tspan x="0" y="27.6">secretion</tspan></text></g>
<g id="n_bp" transform="translate(4209.5,29)"><rect class="w" x="-63.5" y="-24" width="127" height="48"/><text><tspan x="0" y="-3.2">biological_process</tspan><tspan x="0" y="12.2">Mmp13</tspan></text></g>
<g id="n_cp" transform="translate(4256,125)"><rect class="w" x="-54" y="-24" width="108" height="48"/><text y="4.5">cellular process</text></g>
<g id="n_rbp" transform="translate(4364,223.5)"><rect class="w" x="-62" y="-24" width="124" height="48"/><text><tspan x="0" y="-3.2">regulation of</tspan><tspan x="0" y="12.2">biological process</tspan></text></g>
<g id="n_eloc" transform="translate(4498.5,223.5)"><rect class="w" x="-49.5" y="-24" width="99" height="48"/><text><tspan x="0" y="-3.2">establishment</tspan><tspan x="0" y="12.2">of localization</tspan></text></g>
<g id="n_tr" transform="translate(4045.5,323)"><rect class="w" x="-36.5" y="-24" width="73" height="48"/><text y="4.5">transport</text></g>
<g id="n_prbp" transform="translate(4169,323)"><rect class="w" x="-64" y="-24" width="128" height="48"/><text><tspan x="0" y="-10.9">positive regulation</tspan><tspan x="0" y="4.5">of biological</tspan><tspan x="0" y="19.9">process</tspan></text></g>
<g id="n_rcp" transform="translate(4364,323)"><rect class="w" x="-54" y="-24" width="108" height="48"/><text><tspan x="0" y="-3.2">regulation of</tspan><tspan x="0" y="12.2">cellular process</tspan></text></g>
<g id="n_rloc" transform="translate(4510.5,323)"><rect class="w" x="-44.5" y="-24" width="89" height="48"/><text><tspan x="0" y="-3.2">regulation of</tspan><tspan x="0" y="12.2">localization</tspan></text></g>
<g id="n_rt" transform="translate(4044,422)"><rect class="w" x="-44" y="-24" width="88" height="48"/><text><tspan x="0" y="-3.2">regulation of</tspan><tspan x="0" y="12.2">transport</tspan></text></g>
<g id="n_prcp" transform="translate(4380,422)"><rect class="w" x="-64" y="-24" width="128" height="48"/><text><tspan x="0" y="-10.9">positive regulation</tspan><tspan x="0" y="4.5">of cellular</tspan><tspan x="0" y="19.9">process</tspan></text></g>
<g id="n_rcl" transform="translate(4534.5,422)"><rect class="w" x="-66.5" y="-24" width="133" height="48"/><text><tspan x="0" y="-3.2">regulation of</tspan><tspan x="0" y="12.2">cellular localization</tspan></text></g>
<g id="n_prt" transform="translate(4197.5,527.5)"><rect class="w" x="-64.5" y="-24" width="129" height="48"/><text><tspan x="0" y="-3.2">positive regulation</tspan><tspan x="0" y="12.2">of transport</tspan></text></g>
<g id="n_ost" transform="translate(4399,527.5)"><rect class="w" x="-62" y="-24" width="124" height="48"/><text><tspan x="0" y="-3.2">organic substance</tspan><tspan x="0" y="12.2">transport</tspan></text></g>
<g id="n_nct" transform="translate(4550.5,527.5)"><rect class="w" x="-66.5" y="-24" width="133" height="48"/><text><tspan x="0" y="-3.2">nitrogen compound</tspan><tspan x="0" y="12.2">transport</tspan></text></g>
<g id="n_pt" transform="translate(4421,640.5)"><rect class="w" x="-58" y="-24" width="116" height="48"/><text y="4.5">protein transport</text></g>
<g id="n_ps" transform="translate(4210,746)"><rect class="w" x="-58" y="-24" width="116" height="48"/><text y="4.5">protein secretion</text></g>
<g id="n_rpt" transform="translate(4421,746)"><rect class="w" x="-58" y="-24" width="116" height="48"/><text><tspan x="0" y="-3.2">regulation of</tspan><tspan x="0" y="12.2">protein transport</tspan></text></g>
<g id="n_rps" transform="translate(4117,844)"><rect class="w" x="-58" y="-24" width="116" height="48"/><text><tspan x="0" y="-3.2">regulation of</tspan><tspan x="0" y="12.2">protein secretion</tspan></text></g>
<g id="n_prpt" transform="translate(4421.5,844)"><rect class="w" x="-65.5" y="-24" width="131" height="48"/><text><tspan x="0" y="-3.2">positive regulation</tspan><tspan x="0" y="12.2">of protein transport</tspan></text></g>
<g id="n_prps" transform="translate(4240,948.5)"><rect class="w" x="-67" y="-24" width="134" height="48"/><text><tspan x="0" y="-3.2">positive regulation</tspan><tspan x="0" y="12.2">of protein secretion</tspan></text></g>
<g id="n_loc" transform="translate(4585,125)"><rect class="w" x="-41" y="-24" width="82" height="48"/><text y="4.5">localization</text></g>
<g id="n_cloc" transform="translate(4689.5,223.5)"><rect class="w" x="-67.5" y="-24" width="135" height="48"/><text y="4.5">cellular localization</text></g>
<g id="n_mloc" transform="translate(4833,223.5)"><rect class="w" x="-54" y="-24" width="108" height="48"/><text><tspan x="0" y="-3.2">macromolecule</tspan><tspan x="0" y="12.2">localization</tspan></text></g>
<g id="n_colmp" transform="translate(4976,223.5)"><rect class="w" x="-66" y="-24" width="132" height="48"/><text><tspan x="0" y="-3.2">collagen metabolic</tspan><tspan x="0" y="12.2">process</tspan></text></g>
<g id="n_cml" transform="translate(4813.5,323)"><rect class="w" x="-79.5" y="-24" width="159" height="48"/><text><tspan x="0" y="-3.2">cellular macromolecule</tspan><tspan x="0" y="12.2">localization</tspan></text></g>
<g id="n_colcp" transform="translate(4979,323)"><rect class="cb" x="-62" y="-24" width="124" height="48"/><text><tspan x="0" y="-3.2">collagen catabolic</tspan><tspan x="0" y="12.2">process</tspan></text></g>
<g id="n_ploc" transform="translate(4929,422)"><rect class="w" x="-66" y="-24" width="132" height="48"/><text y="4.5">protein localization</text></g>
<g id="n_epl" transform="translate(4714.5,527.5)"><rect class="w" x="-73.5" y="-24" width="147" height="48"/><text><tspan x="0" y="-3.2">establishment</tspan><tspan x="0" y="12.2">of protein localization</tspan></text></g>
<g id="n_pler" transform="translate(4929,527.5)"><rect class="w" x="-66" y="-24" width="132" height="48"/><text><tspan x="0" y="-10.9">protein localization</tspan><tspan x="0" y="4.5">to extracellular</tspan><tspan x="0" y="19.9">region</tspan></text></g>
<g id="n_epler" transform="translate(4577.5,640.5)"><rect class="w" x="-74.5" y="-32" width="149" height="64"/><text><tspan x="0" y="-18.6">establishment</tspan><tspan x="0" y="-3.2">of protein localization</tspan><tspan x="0" y="12.2">to extracellular</tspan><tspan x="0" y="27.6">region</tspan></text></g>
<g id="n_repl" transform="translate(4749.5,640.5)"><rect class="w" x="-73.5" y="-24" width="147" height="48"/><text><tspan x="0" y="-10.9">regulation of</tspan><tspan x="0" y="4.5">establishment</tspan><tspan x="0" y="19.9">of protein localization</tspan></text></g>
<g id="n_prpl" transform="translate(5040,640.5)"><rect class="w" x="-74" y="-24" width="148" height="48"/><text><tspan x="0" y="-3.2">positive regulation</tspan><tspan x="0" y="12.2">of protein localization</tspan></text></g>
<g id="n_prepl" transform="translate(4805.5,746)"><rect class="w" x="-73.5" y="-24" width="147" height="48"/><text><tspan x="0" y="-10.9">positive regulation</tspan><tspan x="0" y="4.5">of establishment</tspan><tspan x="0" y="19.9">of protein localization</tspan></text></g>
<g id="n_mp" transform="translate(5199,125)"><rect class="w" x="-63" y="-24" width="126" height="48"/><text y="4.5">metabolic process</text></g>
<g id="n_catp" transform="translate(5125,223.5)"><rect class="w" x="-59" y="-24" width="118" height="48"/><text y="4.5">catabolic process</text></g>
<g id="n_osmp" transform="translate(5272,223.5)"><rect class="w" x="-63" y="-24" width="126" height="48"/><text><tspan x="0" y="-3.2">organic substance</tspan><tspan x="0" y="12.2">metabolic process</tspan></text></g>
<g id="n_ncmp" transform="translate(5425.5,223.5)"><rect class="w" x="-66.5" y="-24" width="133" height="48"/><text><tspan x="0" y="-3.2">nitrogen compound</tspan><tspan x="0" y="12.2">metabolic process</tspan></text></g>
<g id="n_pmp" transform="translate(5579,223.5)"><rect class="w" x="-63" y="-24" width="126" height="48"/><text><tspan x="0" y="-3.2">primary metabolic</tspan><tspan x="0" y="12.2">process</tspan></text></g>
<g id="n_oscp" transform="translate(5126,323)"><rect class="w" x="-62" y="-24" width="124" height="48"/><text><tspan x="0" y="-3.2">organic substance</tspan><tspan x="0" y="12.2">catabolic process</tspan></text></g>
<g id="n_mmp" transform="translate(5276,323)"><rect class="w" x="-63" y="-24" width="126" height="48"/><text><tspan x="0" y="-3.2">macromolecule</tspan><tspan x="0" y="12.2">metabolic process</tspan></text></g>
<g id="n_oncmp" transform="translate(5434.5,323)"><rect class="w" x="-71.5" y="-24" width="143" height="48"/><text><tspan x="0" y="-10.9">organonitrogen</tspan><tspan x="0" y="4.5">compound metabolic</tspan><tspan x="0" y="19.9">process</tspan></text></g>
<g id="n_mcp" transform="translate(5129,422)"><rect class="w" x="-59" y="-24" width="118" height="48"/><text><tspan x="0" y="-3.2">macromolecule</tspan><tspan x="0" y="12.2">catabolic process</tspan></text></g>
<g id="n_oncp" transform="translate(5281.5,422)"><rect class="w" x="-68.5" y="-24" width="137" height="48"/><text><tspan x="0" y="-10.9">organonitrogen</tspan><tspan x="0" y="4.5">compound catabolic</tspan><tspan x="0" y="19.9">process</tspan></text></g>
<g id="n_protmp" transform="translate(5435,422)"><rect class="cb" x="-61" y="-24" width="122" height="48"/><text><tspan x="0" y="-3.2">protein metabolic</tspan><tspan x="0" y="12.2">process</tspan></text></g>
<g id="n_rpl" transform="translate(5084,527.5)"><rect class="w" x="-65" y="-24" width="130" height="48"/><text><tspan x="0" y="-3.2">regulation of</tspan><tspan x="0" y="12.2">protein localization</tspan></text></g>
<g id="n_pcp" transform="translate(5281,527.5)"><rect class="lb" x="-58" y="-24" width="116" height="48"/><text><tspan x="0" y="-3.2">protein catabolic</tspan><tspan x="0" y="12.2">process</tspan></text></g>
<g id="n_prot" transform="translate(5435,527.5)"><rect class="cb" x="-39" y="-24" width="78" height="48"/><text y="4.5">proteolysis</text></g>
<g id="n_rstim" transform="translate(5738.5,125)"><rect class="w" x="-41.5" y="-24" width="83" height="48"/><text><tspan x="0" y="-3.2">response to</tspan><tspan x="0" y="12.2">stimulus</tspan></text></g>
<g id="n_res" transform="translate(5738.5,223.5)"><rect class="w" x="-72.5" y="-24" width="145" height="48"/><text><tspan x="0" y="-3.2">response to</tspan><tspan x="0" y="12.2">endogenous stimulus</tspan></text></g>
<g id="n_rchem" transform="translate(5877.5,223.5)"><rect class="w" x="-41.5" y="-24" width="83" height="48"/><text><tspan x="0" y="-3.2">response to</tspan><tspan x="0" y="12.2">chemical</tspan></text></g>
<g id="n_ros" transform="translate(5859,323)"><rect class="w" x="-62" y="-24" width="124" height="48"/><text><tspan x="0" y="-3.2">response to</tspan><tspan x="0" y="12.2">organic substance</tspan></text></g>
<g id="n_rh" transform="translate(5808,422)"><rect class="lb" x="-41" y="-24" width="82" height="48"/><text><tspan x="0" y="-3.2">response to</tspan><tspan x="0" y="12.2">hormone</tspan></text></g>
</g>
</svg>
